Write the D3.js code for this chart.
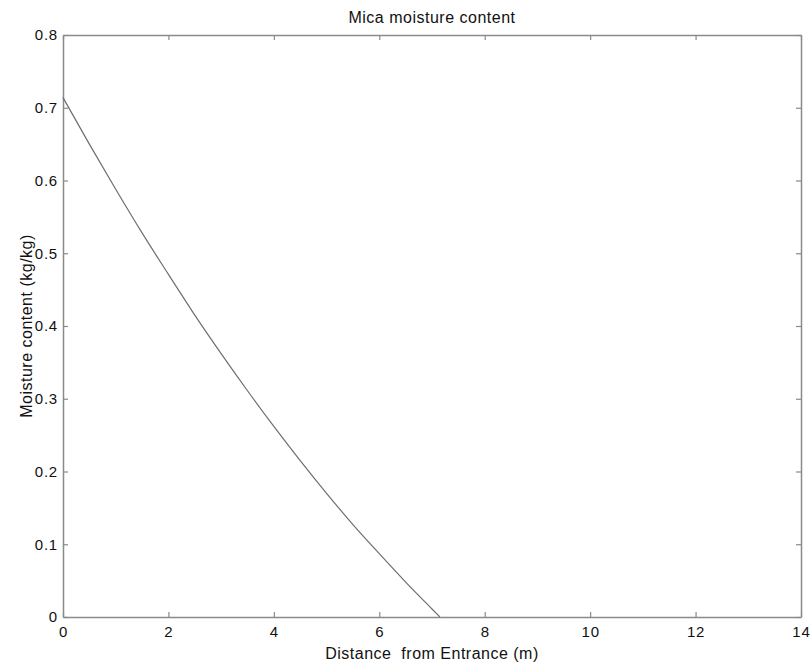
<!DOCTYPE html>
<html>
<head>
<meta charset="utf-8">
<script src="https://cdn.jsdelivr.net/npm/d3@7"></script>
<style>
  body { margin: 0; background: #fff; }
  text { font-family: "Liberation Sans", Arial, sans-serif; fill: #111; }
</style>
</head>
<body>
<svg id="chart" width="812" height="667"></svg>
<script>
// data
var distance = [0, 0.5, 1, 1.5, 2, 2.5, 3, 3.5, 4, 4.5, 5, 5.5, 6, 6.5, 7, 7.15];
var moisture = [0.714, 0.650, 0.588, 0.528, 0.471, 0.415, 0.362, 0.311, 0.262, 0.215, 0.170, 0.127, 0.087, 0.048, 0.011, 0];
var xTicks = [0, 2, 4, 6, 8, 10, 12, 14];
var yTicks = [0, 0.1, 0.2, 0.3, 0.4, 0.5, 0.6, 0.7, 0.8];

var margin = { top: 35, right: 11, bottom: 50, left: 63 };
var width = 812 - margin.left - margin.right;
var height = 667 - margin.top - margin.bottom;
var axisColor = "#8a8a8a";

var svg = d3.select("#chart")
  .append("g")
  .attr("transform", "translate(" + margin.left + "," + margin.top + ")");

var x = d3.scaleLinear().domain([0, 14]).range([0, width]);
var y = d3.scaleLinear().domain([0, 0.8]).range([height, 0]);

var fmt = function(d) { return d === 0 ? "0" : d3.format(".1f")(d); };

// bottom and left axes, ticks pointing inward
var xAxis = svg.append("g")
  .attr("transform", "translate(0," + height + ")")
  .call(d3.axisBottom(x).tickValues(xTicks).tickSize(-5).tickSizeOuter(0).tickPadding(9));
var yAxis = svg.append("g")
  .call(d3.axisLeft(y).tickValues(yTicks).tickFormat(fmt).tickSize(-5).tickSizeOuter(0).tickPadding(5));

// top and right mirrored ticks
var xTop = svg.append("g")
  .call(d3.axisTop(x).tickValues(xTicks).tickSize(-5).tickSizeOuter(0).tickFormat(""));
var yRight = svg.append("g")
  .attr("transform", "translate(" + width + ",0)")
  .call(d3.axisRight(y).tickValues(yTicks).tickSize(-5).tickSizeOuter(0).tickFormat(""));

[xAxis, yAxis, xTop, yRight].forEach(function(g) {
  g.select(".domain").attr("stroke", axisColor).attr("stroke-width", 1.5);
  g.selectAll(".tick line").attr("stroke", axisColor).attr("stroke-width", 1.2);
  g.selectAll(".tick text")
    .style("font-family", "'Liberation Sans', Arial, sans-serif")
    .style("font-size", "15px")
    .style("letter-spacing", "0.8px")
    .attr("fill", "#111");
});

// the curve
var line = d3.line()
  .x(function(d, i) { return x(distance[i]); })
  .y(function(d) { return y(d); })
  .curve(d3.curveMonotoneX);

svg.append("path")
  .datum(moisture)
  .attr("d", line)
  .attr("fill", "none")
  .attr("stroke", "#6e6e6e")
  .attr("stroke-width", 1.2);

// title
svg.append("text")
  .attr("x", width / 2)
  .attr("y", -12)
  .attr("text-anchor", "middle")
  .style("font-size", "16px")
  .style("letter-spacing", "0.5px")
  .text("Mica moisture content");

// x-axis label
svg.append("text")
  .attr("x", width / 2)
  .attr("y", height + 42)
  .attr("text-anchor", "middle")
  .style("font-size", "16px")
  .style("letter-spacing", "0.5px")
  .style("white-space", "pre")
  .text("Distance  from Entrance (m)");

// y-axis label
svg.append("text")
  .attr("transform", "rotate(-90)")
  .attr("x", -height / 2)
  .attr("y", -31)
  .attr("text-anchor", "middle")
  .style("font-size", "16px")
  .style("letter-spacing", "0.5px")
  .text("Moisture content (kg/kg)");
</script>
</body>
</html>
